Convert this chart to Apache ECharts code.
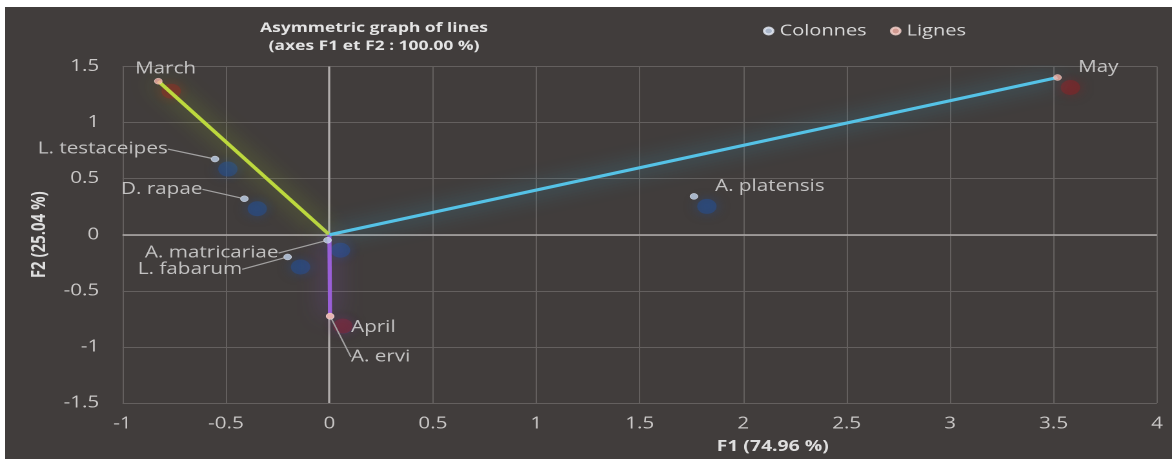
<!DOCTYPE html>
<html><head><meta charset="utf-8">
<script src="https://cdn.jsdelivr.net/npm/echarts@6/dist/echarts.min.js"></script>
<style>
html,body{margin:0;padding:0;background:#ffffff;width:1172px;height:459px;overflow:hidden}
#bg{position:absolute;left:5px;top:7px;width:1167px;height:452px;background:#413d3c}
#chart{position:absolute;left:0;top:0;width:908px;height:459px;transform:scaleX(1.290749);transform-origin:0 0}
</style></head><body>
<div id="bg"></div><div id="chart"></div>
<script>
// ---- data ----
const rowNames = ['March', 'April', 'May'];
const rowF1 = [-0.827, 0.003, 3.519];
const rowF2 = [1.369, -0.725, 1.402];
const colNames = ['L. testaceipes', 'D. rapae', 'A. matricariae', 'L. fabarum', 'A. platensis', 'A. ervi'];
const colF1 = [-0.553, -0.411, -0.009, -0.202, 1.762, 0.004];
const colF2 = [0.675, 0.321, -0.049, -0.198, 0.342, -0.728];
const xTickMin = -1, xTickMax = 4, xTickStep = 0.5;
const yTickMin = -1.5, yTickMax = 1.5, yTickStep = 0.5;
const titleLines = ['Asymmetric graph of lines', '(axes F1 et F2 : 100.00 %)'];
const xName = 'F1 (74.96 %)';
const yName = 'F2 (25.04 %)';
const legendNames = ['Colonnes', 'Lignes'];

// ---- style config (label placement relative to each point, colours) ----
const colLabelCfg = [
  {dx: -36.6, dy: -10, align: 'right', line: true},
  {dx: -32.5, dy: -9.4, align: 'right', line: true},
  {dx: -38, dy: 12.8, align: 'right', line: true},
  {dx: -35.2, dy: 12.3, align: 'right', line: true},
  {dx: 16.3, dy: -10, align: 'left', line: false},
  {dx: 16, dy: 40.6, align: 'left', line: true}
];
const rowLabelCfg = [
  {dx: -18, dy: -12.4, align: 'left'},
  {dx: 16.3, dy: 11.6, align: 'left'},
  {dx: 15.9, dy: -10, align: 'left'}
];
const vecColors = ['#bcd83e', '#9a5fd8', '#55c2e6'];
const vecGlow = ['rgba(165,205,35,0.8)', 'rgba(150,80,225,0.85)', 'rgba(55,185,230,0.8)'];
const FONT = 'Open Sans';

const colData = colNames.map((n, i) => ({
  name: n, value: [colF1[i], colF2[i]],
  labelLine: {show: colLabelCfg[i].line}
}));
const rowData = rowNames.map((n, i) => ({name: n, value: [rowF1[i], rowF2[i]]}));

function layoutFrom(cfg) {
  return function (p) {
    const c = cfg[p.dataIndex];
    return {
      x: p.rect.x + p.rect.width / 2 + c.dx,
      y: p.rect.y + p.rect.height / 2 + c.dy,
      align: c.align, verticalAlign: 'middle'
    };
  };
}

const labelText = {show: true, formatter: '{b}', color: '#e4e4e4', fontFamily: FONT, fontSize: 16};

const series = [
  {
    name: 'colShadow', type: 'scatter', z: 1, silent: true,
    data: colData.map(d => d.value),
    symbolSize: 15, symbolOffset: [10, 10],
    itemStyle: {color: 'rgba(38,78,145,0.7)', shadowBlur: 10, shadowColor: 'rgba(38,78,145,0.9)'},
    markLine: {
      z: 1, silent: true, symbol: ['none', 'none'], animation: false,
      label: {show: false},
      lineStyle: {color: '#b0acab', width: 1.6, type: 'solid'},
      emphasis: {disabled: true},
      data: [{xAxis: 0}, {yAxis: 0}]
    }
  },
  {
    name: 'rowShadow', type: 'scatter', z: 1, silent: true,
    data: rowData.map(d => d.value),
    symbolSize: 15, symbolOffset: [10, 10],
    itemStyle: {color: 'rgba(135,35,40,0.7)', shadowBlur: 10, shadowColor: 'rgba(135,35,40,0.9)'}
  }
];
rowNames.forEach((n, i) => {
  series.push({
    name: 'vec' + i, type: 'line', z: 3, silent: true, symbol: 'none',
    data: [[0, 0], [rowF1[i], rowF2[i]]],
    lineStyle: {color: vecColors[i], width: 3.2, shadowBlur: 20, shadowColor: vecGlow[i]}
  });
});
series.push({
  name: legendNames[0], type: 'scatter', z: 5, data: colData, symbolSize: 6,
  itemStyle: {color: '#c3d4ee', borderColor: '#e8eef8', borderWidth: 0.5},
  label: labelText,
  labelLine: {show: true, smooth: 0.25, lineStyle: {color: '#a3a2a2', width: 1.2}},
  labelLayout: layoutFrom(colLabelCfg)
});
series.push({
  name: legendNames[1], type: 'scatter', z: 6, data: rowData, symbolSize: 6,
  itemStyle: {color: '#f4b2a6', borderColor: '#f8d6cf', borderWidth: 0.5},
  label: labelText,
  labelLayout: layoutFrom(rowLabelCfg)
});

const chart = echarts.init(document.getElementById('chart'), null, {renderer: 'canvas', devicePixelRatio: 2});
chart.setOption({
  backgroundColor: 'transparent',
  animation: false,
  grid: {left: 94.9, right: 11.6, top: 66.5, bottom: 55},
  legend: {
    data: legendNames.map(n => ({name: n, icon: 'circle'})),
    left: 586, top: 18, itemWidth: 7, itemHeight: 7, itemGap: 18,
    textStyle: {color: '#d8d8d8', fontFamily: FONT, fontSize: 15.5},
    selectedMode: false
  },
  xAxis: {
    type: 'value', min: xTickMin, max: xTickMax, interval: xTickStep,
    axisLine: {show: false}, axisTick: {show: false},
    splitLine: {show: true, lineStyle: {color: '#64605f', width: 1}},
    axisLabel: {color: '#cac8c7', fontFamily: FONT, fontSize: 16, margin: 13},
    name: xName, nameLocation: 'middle', nameGap: 36,
    nameTextStyle: {color: '#dedede', fontFamily: FONT, fontWeight: 'bold', fontSize: 15, padding: [0, 0, 0, 206]}
  },
  yAxis: {
    type: 'value', min: yTickMin, max: yTickMax, interval: yTickStep,
    axisLine: {show: false}, axisTick: {show: false},
    splitLine: {show: true, lineStyle: {color: '#64605f', width: 1}},
    axisLabel: {color: '#cac8c7', fontFamily: FONT, fontSize: 16, margin: 18},
    name: yName, nameLocation: 'middle', nameGap: 50,
    nameTextStyle: {color: '#dedede', fontFamily: FONT, fontWeight: 'bold', fontSize: 15}
  },
  graphic: [{
    type: 'text', x: 289.8, y: 37, silent: true,
    style: {
      text: titleLines.join('\n'), fill: '#e4e4e4',
      font: 'bold 13.5px "Open Sans"', lineHeight: 18,
      align: 'center', verticalAlign: 'middle'
    }
  }],
  series: series
});
</script>
</body></html>
